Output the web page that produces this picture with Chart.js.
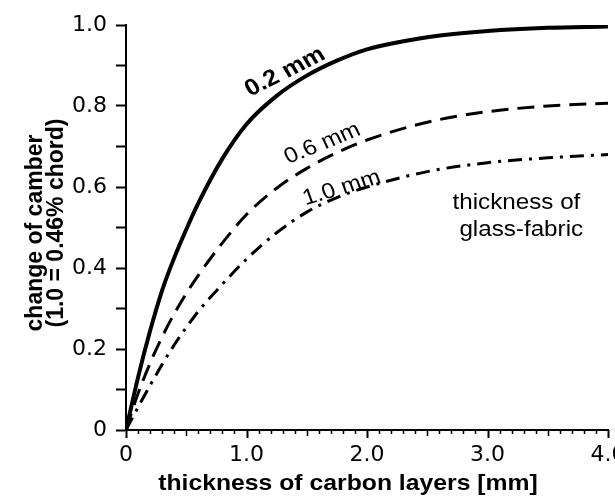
<!DOCTYPE html>
<html>
<head>
<meta charset="utf-8">
<script src="https://cdn.jsdelivr.net/npm/chart.js@4.4.1/dist/chart.umd.min.js"></script>
<style>
  html, body { margin: 0; padding: 0; background: #fff; }
  #wrap { width: 615px; height: 499px; }
</style>
</head>
<body>
<div id="wrap"><canvas id="chart"></canvas></div>
<script>
// thickness of carbon layers [mm]
const thickness = [0, 0.1, 0.2, 0.3, 0.4, 0.5, 0.6, 0.8, 1.0, 1.25, 1.5, 1.75, 2.0, 2.5, 3.0, 3.5, 4.0];
// change of camber for each glass-fabric thickness
const glass02 = [0, 0.13, 0.245, 0.345, 0.425, 0.495, 0.56, 0.67, 0.755, 0.825, 0.875, 0.912, 0.94, 0.97, 0.985, 0.993, 0.996];
const glass06 = [0, 0.09, 0.165, 0.23, 0.287, 0.337, 0.382, 0.462, 0.532, 0.597, 0.646, 0.685, 0.716, 0.76, 0.786, 0.8, 0.807];
const glass10 = [0, 0.056, 0.11, 0.162, 0.21, 0.253, 0.293, 0.36, 0.422, 0.487, 0.538, 0.574, 0.6, 0.638, 0.66, 0.672, 0.68];

const xTickLabels = ['0', '1.0', '2.0', '3.0', '4.0'];
const yTickLabels = ['0', '0.2', '0.4', '0.6', '0.8', '1.0'];

const xTitle = 'thickness of carbon layers [mm]';
const yTitle = ['change of camber', '(1.0 = 0.46% chord)'];

// text written into the plot: [text, x, y, angle in degrees, bold]
const plotNotes = [
  ['0.2 mm', 1.32, 0.884, -29, true],
  ['0.6 mm', 1.63, 0.707, -24, false],
  ['1.0 mm', 1.79, 0.597, -18, false],
  ['thickness of', 3.24, 0.56, 0, false],
  ['glass-fabric', 3.28, 0.494, 0, false],
];

const FONT = '"Liberation Sans", Arial, Helvetica, sans-serif';
const TICK_FONT = '"DejaVu Sans", "Liberation Sans", sans-serif';
const STRETCH = 1.1; // the scanned figure is a little wider than tall

const toPoints = ys => ys.map((y, i) => ({ x: thickness[i], y }));

const line = (label, data, width, dash) => ({
  label,
  data: toPoints(data),
  borderColor: '#000',
  borderWidth: width,
  borderDash: dash,
  pointRadius: 0,
  fill: false,
  cubicInterpolationMode: 'monotone',
});

// small tick marks under the x axis: long at whole mm, medium at halves
const xTickMarks = {
  id: 'xTickMarks',
  afterDraw(chart) {
    const { ctx, scales: { x } } = chart;
    const y0 = x.top;
    ctx.save();
    ctx.strokeStyle = '#000';
    x.ticks.forEach(t => {
      const k = Math.round(t.value * 10);
      const len = k % 10 === 0 ? 8 : (k % 5 === 0 ? 6 : 4);
      const px = Math.round(x.getPixelForValue(t.value)) + 0.5;
      ctx.lineWidth = k % 10 === 0 ? 2 : 1.5;
      ctx.beginPath();
      ctx.moveTo(px, y0);
      ctx.lineTo(px, y0 + len);
      ctx.stroke();
    });
    ctx.restore();
  },
};

function drawText(ctx, text, px, py, angle, font, align, baseline, stretch = STRETCH) {
  ctx.save();
  ctx.translate(px, py);
  ctx.scale(stretch, 1);
  ctx.rotate(angle * Math.PI / 180);
  ctx.font = font;
  ctx.textAlign = align;
  ctx.textBaseline = baseline;
  ctx.fillText(text, 0, 0);
  ctx.restore();
}

const notes = {
  id: 'notes',
  afterDraw(chart) {
    const { ctx, scales: { x, y } } = chart;
    ctx.save();
    ctx.fillStyle = '#000';
    plotNotes.forEach(([text, vx, vy, angle, bold]) => {
      drawText(ctx, text, x.getPixelForValue(vx), y.getPixelForValue(vy), angle,
        (bold ? 'bold 23px ' : '22px ') + FONT, 'center', 'middle');
    });
    // axis titles
    drawText(ctx, xTitle, 348, 490, 0, 'bold 22.5px ' + FONT, 'center', 'alphabetic');
    drawText(ctx, yTitle[0], 42, 233, -90, 'bold 23px ' + FONT, 'center', 'alphabetic', 1);
    drawText(ctx, yTitle[1], 63, 223, -90, 'bold 23px ' + FONT, 'center', 'alphabetic', 1);
    ctx.restore();
  },
};

new Chart(document.getElementById('chart'), {
  type: 'line',
  data: {
    datasets: [
      line('0.2 mm', glass02, 4, []),
      line('0.6 mm', glass06, 3, [17, 9]),
      line('1.0 mm', glass10, 3, [14, 7, 3, 7]),
    ],
  },
  options: {
    responsive: true,
    maintainAspectRatio: false,
    animation: false,
    layout: { padding: { top: 25, right: 7, left: 0, bottom: 0 } },
    plugins: { legend: { display: false }, tooltip: { enabled: false } },
    scales: {
      x: {
        type: 'linear',
        min: 0,
        max: 4,
        border: { display: true, color: '#000', width: 2 },
        grid: { display: true, drawOnChartArea: false, drawTicks: false },
        ticks: {
          stepSize: 0.1,
          autoSkip: false,
          maxRotation: 0,
          padding: 12,
          color: '#000',
          font: { family: TICK_FONT, size: 22 },
          callback: v => {
            const k = Math.round(v * 10);
            return k % 10 === 0 ? xTickLabels[k / 10] : '';
          },
        },
        afterFit: s => { s.height = 69; s.paddingLeft = 0; s.paddingRight = 0; },
      },
      y: {
        min: 0,
        max: 1,
        border: { display: true, color: '#000', width: 2 },
        grid: { display: true, drawOnChartArea: false, drawTicks: true, tickLength: 10, tickColor: '#000', tickWidth: 2 },
        ticks: {
          stepSize: 0.1,
          autoSkip: false,
          padding: 9,
          color: '#000',
          font: { family: TICK_FONT, size: 22 },
          callback: v => {
            const k = Math.round(v * 10);
            return k % 2 === 0 ? yTickLabels[k / 2] : '';
          },
        },
        afterFit: s => { s.width = 126; s.paddingTop = 0; s.paddingBottom = 0; },
      },
    },
  },
  plugins: [xTickMarks, notes],
});
</script>
</body>
</html>
